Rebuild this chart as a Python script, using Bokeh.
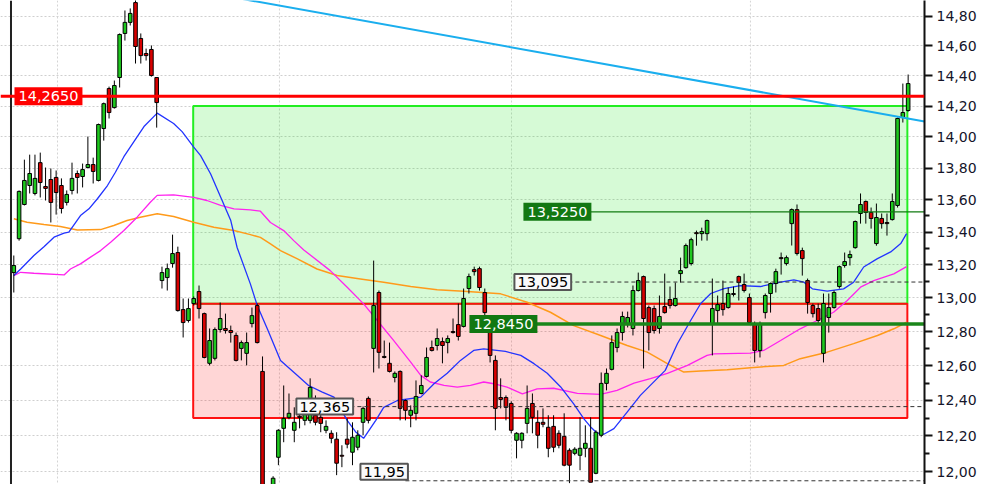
from bokeh.plotting import figure
from bokeh.models import (Range1d, FixedTicker, CustomJSTickFormatter, Span, Label,
                          ColumnDataSource)
from bokeh.embed import file_html
from bokeh.resources import INLINE

# ---------------- data (prices) ----------------
opens = [13.152, 13.359, 13.571, 13.690, 13.640, 13.835, 13.684, 13.728, 13.741, 13.690,
         13.584, 13.659, 13.766, 13.747, 13.804, 13.823, 13.722, 14.054, 14.315, 14.190,
         14.388, 14.683, 14.758, 14.893, 14.649, 14.548, 14.575, 14.388, 13.104, 13.122,
         13.207, 13.274, 12.930, 12.865, 12.966, 13.038, 12.906, 12.614, 12.643, 12.812,
         12.818, 12.806, 12.777, 12.701, 12.672, 12.847, 12.954, 12.567, 11.760, 11.750,
         12.080, 12.242, 12.304, 12.231, 12.310, 12.287, 12.287, 12.316, 12.304, 12.231,
         12.214, 12.181, 12.091, 12.181, 12.108, 12.136, 12.276, 12.412, 12.701, 13.032,
         12.654, 12.614, 12.532, 12.567, 12.400, 12.316, 12.327, 12.440, 12.538, 12.706,
         12.718, 12.741, 12.735, 12.800, 12.841, 12.830, 13.056, 13.170, 13.176, 13.032,
         12.877, 12.631, 12.417, 12.417, 12.383, 12.175, 12.175, 12.270, 12.383, 12.276,
         12.276, 12.248, 12.253, 12.214, 12.197, 12.119, 12.102, 12.091, 12.130, 12.130,
         11.991, 12.203, 12.498, 12.579, 12.706, 12.794, 12.847, 12.818, 13.044, 13.128,
         12.942, 12.936, 12.818, 12.948, 12.990, 12.954, 13.146, 13.182, 13.207, 13.396,
         13.390, 13.390, 12.847, 12.924, 12.966, 12.942, 13.026, 13.128, 13.080, 13.002,
         12.847, 12.689, 12.912, 13.026, 13.086, 13.243, 13.207, 13.452, 13.539, 13.286,
         13.104, 12.954, 12.936, 12.672, 12.883, 12.942, 13.068, 13.195, 13.243, 13.304,
         13.515, 13.590, 13.521, 13.329, 13.484, 13.459, 13.477, 13.565, 14.125, 14.171]

highs = [13.256, 13.659, 13.854, 13.886, 13.886, 13.899, 13.804, 13.798, 13.785, 13.735,
         13.659, 13.835, 13.785, 13.829, 14.002, 13.867, 14.086, 14.223, 14.328, 14.368,
         14.683, 14.839, 14.853, 14.920, 14.683, 14.581, 14.602, 14.388, 13.188, 13.207,
         13.384, 13.310, 12.996, 12.996, 13.008, 13.074, 12.912, 12.818, 12.824, 12.972,
         12.906, 12.835, 12.794, 12.747, 12.794, 12.942, 12.966, 12.654, 11.800, 11.975,
         12.237, 12.486, 12.440, 12.361, 12.361, 12.383, 12.527, 12.429, 12.400, 12.287,
         12.231, 12.220, 12.147, 12.298, 12.276, 12.231, 12.366, 12.423, 13.225, 13.044,
         12.747, 12.735, 12.567, 12.573, 12.406, 12.372, 12.515, 12.544, 12.706, 12.747,
         12.818, 12.765, 12.777, 12.877, 12.966, 13.056, 13.146, 13.188, 13.188, 13.056,
         12.894, 12.660, 12.527, 12.429, 12.395, 12.220, 12.220, 12.486, 12.440, 12.344,
         12.355, 12.316, 12.316, 12.231, 12.327, 12.130, 12.136, 12.304, 12.259, 12.304,
         12.231, 12.561, 12.584, 12.777, 12.818, 12.918, 12.918, 13.074, 13.152, 13.134,
         12.954, 12.954, 13.014, 13.146, 13.068, 13.092, 13.243, 13.329, 13.365, 13.409,
         13.427, 13.477, 13.116, 13.014, 13.104, 13.062, 13.068, 13.134, 13.146, 13.026,
         12.859, 12.859, 13.026, 13.092, 13.176, 13.274, 13.256, 13.546, 13.571, 13.304,
         13.116, 12.966, 12.966, 13.026, 13.026, 13.044, 13.195, 13.274, 13.286, 13.471,
         13.640, 13.596, 13.552, 13.577, 13.515, 13.515, 13.640, 14.125, 14.348, 14.408]

lows = [13.032, 13.347, 13.565, 13.640, 13.628, 13.615, 13.596, 13.459, 13.508, 13.515,
        13.565, 13.634, 13.640, 13.678, 13.798, 13.703, 13.716, 13.976, 14.119, 14.184,
        14.322, 14.635, 14.737, 14.481, 14.481, 14.501, 14.394, 14.060, 13.056, 13.044,
        13.182, 12.918, 12.765, 12.853, 12.954, 12.877, 12.643, 12.602, 12.631, 12.794,
        12.788, 12.735, 12.625, 12.631, 12.602, 12.824, 12.730, 11.680, 11.660, 11.720,
        12.036, 12.164, 12.293, 12.164, 12.242, 12.259, 12.270, 12.259, 12.220, 12.214,
        12.158, 11.981, 12.025, 12.130, 12.036, 12.119, 12.203, 12.270, 12.561, 12.584,
        12.643, 12.561, 12.504, 12.287, 12.287, 12.248, 12.287, 12.435, 12.532, 12.683,
        12.689, 12.614, 12.672, 12.788, 12.747, 12.824, 13.026, 13.134, 13.044, 12.894,
        12.619, 12.231, 12.355, 12.287, 12.214, 12.074, 12.130, 12.214, 12.214, 12.130,
        12.248, 12.080, 12.108, 12.130, 12.030, 11.937, 12.091, 12.008, 12.080, 11.942,
        11.986, 12.192, 12.458, 12.573, 12.678, 12.747, 12.824, 12.777, 13.038, 12.584,
        12.689, 12.788, 12.788, 12.906, 12.936, 12.948, 13.092, 13.176, 13.195, 13.316,
        13.347, 13.347, 12.660, 12.847, 12.894, 12.936, 13.008, 12.984, 13.032, 12.847,
        12.619, 12.648, 12.877, 12.912, 13.032, 13.140, 13.195, 13.317, 13.256, 13.134,
        12.906, 12.883, 12.847, 12.619, 12.794, 12.936, 13.056, 13.182, 13.195, 13.298,
        13.452, 13.452, 13.421, 13.316, 13.421, 13.378, 13.471, 13.552, 14.093, 14.164]

closes = [13.195, 13.653, 13.722, 13.766, 13.735, 13.709, 13.672, 13.584, 13.646, 13.546,
          13.634, 13.735, 13.741, 13.791, 13.823, 13.779, 14.080, 14.216, 14.158, 14.335,
          14.676, 14.758, 14.819, 14.595, 14.534, 14.534, 14.401, 14.223, 13.152, 13.176,
          13.268, 12.924, 12.853, 12.936, 12.996, 12.936, 12.648, 12.747, 12.812, 12.877,
          12.806, 12.794, 12.631, 12.735, 12.735, 12.894, 12.735, 11.760, 11.720, 11.964,
          12.231, 12.298, 12.327, 12.276, 12.304, 12.327, 12.475, 12.276, 12.270, 12.253,
          12.186, 12.047, 12.086, 12.153, 12.192, 12.203, 12.355, 12.287, 12.954, 12.678,
          12.648, 12.567, 12.556, 12.355, 12.344, 12.344, 12.423, 12.486, 12.648, 12.689,
          12.759, 12.718, 12.759, 12.794, 12.771, 12.996, 13.128, 13.158, 13.062, 12.912,
          12.660, 12.355, 12.406, 12.361, 12.231, 12.214, 12.214, 12.355, 12.304, 12.203,
          12.265, 12.130, 12.136, 12.147, 12.036, 12.036, 12.125, 12.130, 12.158, 11.942,
          12.220, 12.498, 12.556, 12.735, 12.794, 12.889, 12.883, 13.044, 13.104, 12.877,
          12.794, 12.806, 12.889, 12.912, 12.954, 12.996, 13.164, 13.317, 13.353, 13.390,
          13.403, 13.471, 12.936, 12.960, 12.930, 13.026, 13.020, 13.092, 13.044, 12.853,
          12.689, 12.847, 13.014, 13.086, 13.158, 13.237, 13.243, 13.539, 13.268, 13.237,
          12.972, 12.906, 12.865, 12.966, 12.942, 13.032, 13.188, 13.219, 13.262, 13.465,
          13.571, 13.521, 13.484, 13.490, 13.452, 13.452, 13.590, 14.119, 14.158, 14.348]

# moving averages (vertices; x = candle number)
ma_fast_idx = [0, 1.3, 3.8, 5.7, 7.6, 9.5, 10.4, 12.6, 14.2, 15.8, 17.7, 19.2, 20.8, 22.7, 24.6,
               27.1, 30.2, 31.8, 34.0, 35.3, 37.2, 39.1, 41.0, 42.2, 44.7, 46.0, 47.9, 50.4,
               53.6, 55.7, 58.3, 60.5, 63.0, 64.6, 66.1, 68.4, 69.9, 72.5, 76.9, 79.4, 81.9,
               84.4, 86.9, 88.8, 92.9, 95.8, 98.3, 100.8, 103.3, 105.8, 107.7, 109.0, 110.2,
               111.5, 113.4, 115.9, 118.4, 123.1, 125.4, 127.9, 129.8, 131.7, 134.2, 137.3,
               141.1, 144.9, 147.4, 149.3, 150.9, 153.7, 156.8, 158.7, 160.6, 163.2, 165.7,
               167.6, 168.7]
ma_fast_val = [13.134, 13.174, 13.256, 13.310, 13.368, 13.393, 13.399, 13.502, 13.544, 13.607,
               13.690, 13.774, 13.873, 13.970, 14.067, 14.154, 14.087, 14.034, 13.934, 13.880,
               13.763, 13.617, 13.471, 13.305, 13.084, 12.954, 12.816, 12.631, 12.544, 12.486,
               12.448, 12.419, 12.287, 12.222, 12.186, 12.287, 12.361, 12.400, 12.419, 12.496,
               12.556, 12.631, 12.689, 12.698, 12.683, 12.660, 12.612, 12.556, 12.479, 12.381,
               12.297, 12.250, 12.216, 12.209, 12.240, 12.334, 12.429, 12.573, 12.728, 12.865,
               12.966, 13.026, 13.056, 13.074, 13.068, 13.094, 13.108, 13.094, 13.054, 13.040,
               13.054, 13.094, 13.186, 13.237, 13.278, 13.329, 13.390]

ma_mid_idx = [0, 1.3, 3.8, 9.5, 10.7, 12.6, 14.5, 16.4, 18.3, 20.8, 23.3, 25.8, 27.1, 30.2,
              34.0, 36.5, 39.1, 41.6, 44.7, 46.6, 48.5, 51.0, 52.9, 54.8, 59.8, 63.0, 66.1,
              68.7, 71.8, 75.0, 76.9, 78.7, 81.3, 83.8, 86.3, 88.8, 90.7, 93.2, 96.1, 98.9,
              102.0, 106.5, 110.9, 114.0, 117.2, 120.3, 123.5, 127.3, 131.0, 132.3, 139.2,
              141.7, 144.9, 148.6, 151.8, 154.9, 157.5, 160.0, 162.5, 166.3, 168.7]
ma_mid_val = [13.134, 13.154, 13.148, 13.138, 13.174, 13.205, 13.246, 13.286, 13.337, 13.409,
              13.492, 13.585, 13.628, 13.631, 13.616, 13.596, 13.565, 13.544, 13.538, 13.529,
              13.459, 13.409, 13.347, 13.290, 13.164, 13.064, 12.964, 12.865, 12.747, 12.621,
              12.544, 12.506, 12.486, 12.477, 12.486, 12.506, 12.496, 12.477, 12.438, 12.467,
              12.470, 12.441, 12.435, 12.458, 12.500, 12.525, 12.556, 12.602, 12.660, 12.669,
              12.673, 12.689, 12.747, 12.816, 12.865, 12.914, 12.984, 13.064, 13.104, 13.144,
              13.188]

ma_slow_idx = [0, 2.5, 5.7, 8.8, 12.0, 16.4, 18.9, 21.4, 23.9, 27.1, 30.2, 34.0, 37.8, 41.6,
               44.7, 46.6, 48.5, 50.4, 53.6, 57.3, 61.1, 65.5, 69.9, 75.0, 80.0, 85.0, 92.0,
               97.0, 101.4, 105.8, 110.9, 115.9, 119.7, 123.5, 126.6, 129.8, 134.8, 139.2,
               145.5, 148.6, 153.7, 158.7, 163.2, 166.3, 168.7]
ma_slow_val = [13.482, 13.461, 13.446, 13.434, 13.413, 13.415, 13.440, 13.471, 13.492, 13.513,
               13.496, 13.461, 13.430, 13.409, 13.384, 13.367, 13.327, 13.286, 13.235, 13.174,
               13.134, 13.114, 13.094, 13.068, 13.048, 13.040, 13.024, 12.974, 12.914, 12.835,
               12.777, 12.718, 12.679, 12.612, 12.563, 12.569, 12.577, 12.589, 12.602, 12.641,
               12.679, 12.729, 12.777, 12.816, 12.855]

# drawn trend line
trend_idx = [20.0, 172.1]
trend_val = [15.07, 14.10]

# zones
zone_left, zone_right = 33.9, 168.85
green_zone = [12.965, 14.20]
red_zone = [12.30, 12.965]

# levels
red_level = 14.265
green_levels = [13.525, 12.845]
green_level_start = [108.6, 98.6]
dash_levels = [13.095, 12.365, 11.95]
dash_level_start = [104.8, 63.6, 74.0]
dash_label_idx = [94.6, 53.4, 65.5]
green_label_idx = [96.3, 86.1]

y_ticks = [12.0, 12.2, 12.4, 12.6, 12.8, 13.0, 13.2, 13.4, 13.6, 13.8, 14.0, 14.2, 14.4, 14.6, 14.8]
y_minor = [11.9, 12.1, 12.3, 12.5, 12.7, 12.9, 13.1, 13.3, 13.5]
month_lines = [8.26, 50.2, 94.05, 139.2]

# ---------------- figure ----------------
p = figure(width=984, height=484,
           x_range=Range1d(-2.513, 172.09), y_range=Range1d(11.9295, 14.9074),
           y_axis_type="log", y_axis_location="right", x_axis_location=None,
           output_backend="svg", toolbar_location=None,
           min_border_left=0, min_border_right=60, min_border_top=0, min_border_bottom=0,
           background_fill_color="white", border_fill_color="white", outline_line_color=None)

p.xgrid.visible = False
p.ygrid.ticker = FixedTicker(ticks=y_ticks)
p.ygrid.grid_line_color = "#cfcfcf"
p.ygrid.grid_line_dash = "2 2"
p.ygrid.grid_line_width = 1

for m in month_lines:
    p.add_layout(Span(location=m, dimension="height", line_color="#d4d4d4",
                      line_dash="2 2", line_width=1, level="underlay"))

ax = p.yaxis[0]
ax.ticker = FixedTicker(ticks=y_ticks, minor_ticks=y_minor)
ax.formatter = CustomJSTickFormatter(code="return tick.toFixed(2).replace('.', ',');")
ax.axis_line_color = "#111111"
ax.axis_line_width = 2
ax.major_tick_line_color = "#111111"
ax.major_tick_line_width = 2
ax.minor_tick_line_color = "#111111"
ax.minor_tick_line_width = 2
ax.major_tick_out = 8
ax.major_tick_in = 0
ax.minor_tick_out = 5
ax.minor_tick_in = 0
ax.major_label_standoff = 4
ax.major_label_text_font = "DejaVu Sans"
ax.major_label_text_font_size = "14px"
ax.major_label_text_color = "#15152a"

# left border
p.add_layout(Span(location=-0.53, dimension="height", line_color="#222222", line_width=2))

# zones
p.quad(left=[zone_left], right=[zone_right], bottom=[green_zone[0]], top=[green_zone[1]],
       fill_color="#00dd00", fill_alpha=0.16, line_color="#22ee22", line_width=2)
p.quad(left=[zone_left], right=[zone_right], bottom=[red_zone[0]], top=[red_zone[1]],
       fill_color="#ff0000", fill_alpha=0.16, line_color="#ff1010", line_width=2)

# moving averages
p.line(ma_slow_idx, ma_slow_val, line_color="#ff9a1a", line_width=1.5)
p.line(ma_mid_idx, ma_mid_val, line_color="#ff22ee", line_width=1.3)
p.line(ma_fast_idx, ma_fast_val, line_color="#2233ff", line_width=1.3)

# candles
n = len(closes)
idx = list(range(n))
colors = ["#1ec81e" if c >= o else "#d80000" for o, c in zip(opens, closes)]
src = ColumnDataSource(dict(x=idx, o=opens, h=highs, l=lows, c=closes,
                            top=[max(o, c) for o, c in zip(opens, closes)],
                            bot=[min(o, c) for o, c in zip(opens, closes)],
                            col=colors))
p.segment(x0="x", y0="l", x1="x", y1="h", source=src, line_color="black", line_width=1)
p.vbar(x="x", top="top", bottom="bot", width=0.68, source=src,
       fill_color="col", line_color="black", line_width=1)

# trend line
p.line(trend_idx, trend_val, line_color="#1aaeee", line_width=2)

# levels
p.add_layout(Span(location=red_level, dimension="width", line_color="#ff0000", line_width=3))
p.segment(x0=[green_level_start[0]], x1=[173], y0=[green_levels[0]], y1=[green_levels[0]],
          line_color="#117a11", line_width=1.3)
p.segment(x0=[green_level_start[1]], x1=[173], y0=[green_levels[1]], y1=[green_levels[1]],
          line_color="#1a861a", line_width=3.5)
p.segment(x0=dash_level_start, x1=[173] * len(dash_levels), y0=dash_levels, y1=dash_levels,
          line_color="#333333", line_dash="4 3", line_width=1)

def fmt(v, d):
    return ("%.*f" % (d, v)).replace(".", ",")

p.add_layout(Label(x=0.13, y=red_level, text=fmt(red_level, 4), text_font="DejaVu Sans",
                   text_font_size="14.5px", text_color="white", text_baseline="middle",
                   text_align="left", background_fill_color="#ff0000", padding=4))
for xi, v in zip(green_label_idx, green_levels):
    p.add_layout(Label(x=xi, y=v, text=fmt(v, 4), text_font="DejaVu Sans",
                       text_font_size="14.5px", text_color="white", text_baseline="middle",
                       text_align="left", background_fill_color="#127812", padding=4))
for xi, v, d in zip(dash_label_idx, dash_levels, [3, 3, 2]):
    # the lowest label is nudged up so that it stays inside the visible area
    lift = 9 if v == min(dash_levels) else 0
    p.add_layout(Label(x=xi, y=v, y_offset=lift, text=fmt(v, d), text_font="DejaVu Sans",
                       text_font_size="14.5px", text_color="black", text_baseline="middle",
                       text_align="left", background_fill_color="#fafafa",
                       border_line_color="#555555", border_line_width=2, padding=3))

open("out.html", "w").write(file_html(p, INLINE))
